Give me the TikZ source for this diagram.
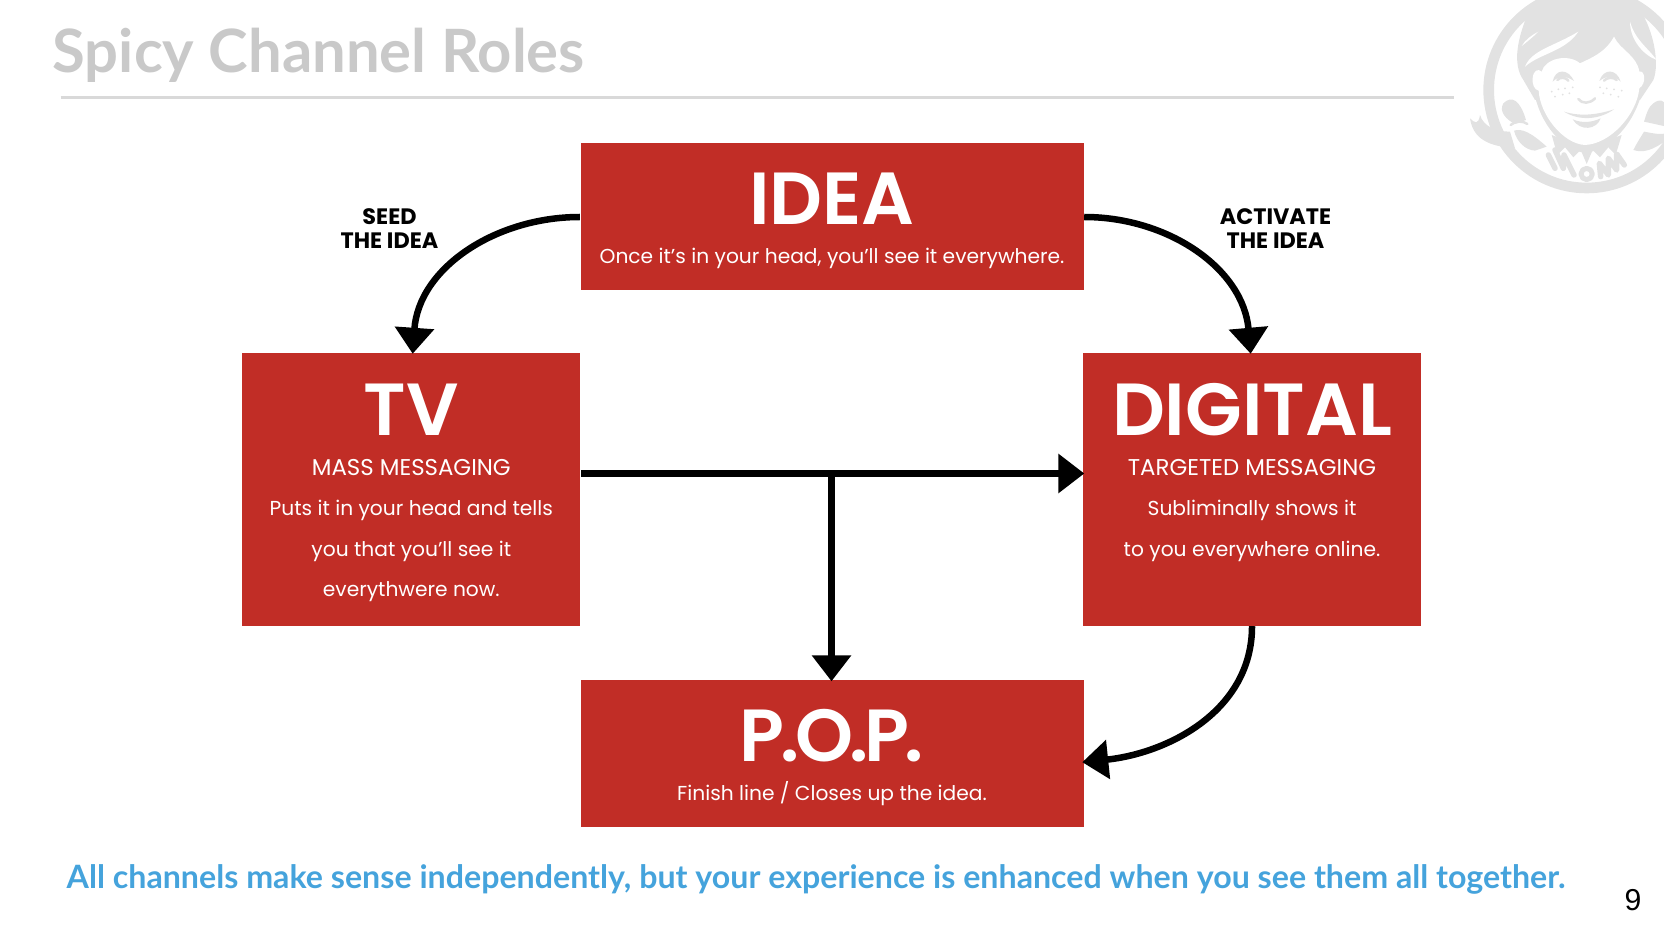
\documentclass[tikz,border=0pt]{standalone}
\usepackage{fontspec}
\setmainfont{Lato}
\newfontfamily\boxfont{Poppins}
\newfontfamily\headfont{Poppins SemiBold}
\newfontfamily\pagefont{Liberation Sans}
\usetikzlibrary{arrows.meta, positioning}
\definecolor{boxred}{HTML}{C12D26}
\definecolor{slidegray}{HTML}{C9C9C9}
\definecolor{logogray}{HTML}{E2E2E2}
\definecolor{noteblue}{HTML}{45A3DC}

\begin{document}
\begin{tikzpicture}[
        channel/.style={fill=boxred, draw=none, inner sep=0pt},
        bigbox/.style={channel, minimum width=5.03cm, minimum height=1.47cm},
        sidebox/.style={channel, minimum width=3.38cm, minimum height=2.73cm},
        heading/.style={font=\headfont\fontsize{21}{21}\selectfont, text=white, inner sep=0pt},
        desc/.style={font=\boxfont\fontsize{5.75}{11.4}\selectfont, text=white, align=center, inner sep=0pt},
        capsline/.style={font=\boxfont\fontsize{6.5}{11.4}\selectfont, text=white, inner sep=0pt},
        arrowlabel/.style={font=\boxfont\fontsize{6.35}{6.9}\selectfont\bfseries, align=center, inner sep=0pt},
        flow/.style={line width=0.065cm, shorten >=-0.02cm, -{Triangle[length=0.26cm, width=0.38cm]}},
        logoline/.style={draw=logogray, line width=0.25mm, line cap=round, line join=round}
    ]
    \useasboundingbox (0, 0) rectangle (16.64, 9.32);

    % --- Slide header ---
    \node[font=\fontsize{17}{18}\selectfont\bfseries, text=slidegray, anchor=west, inner sep=0pt] (slidetitle) at (0.52, 8.77) {Spicy Channel Roles};
    \draw[slidegray!70, line width=0.3mm] (0.605, 8.34) -- (14.54, 8.34);

    % --- Logo ---
    \begin{scope}
    \clip (14.4, 9.32) rectangle (16.64, 7.2);
    \begin{scope}[shift={(14.4, 9.32)}, x=1cm/300, y=-1cm/300]
        % ring
        \fill[logogray, even odd rule] (440, 270) circle (310) (440, 270) circle (278);
        % hair
        \fill[logogray] (262, 45) .. controls (235, 110) and (215, 190) .. (250, 240) -- (285, 300) -- (600, 300) -- (640, 240) .. controls (660, 190) and (640, 90) .. (600, 30) -- (520, -30) -- (350, -30) -- cycle;
        % highlights in the hair
        \fill[white] (255, 200) .. controls (275, 150) and (340, 140) .. (415, 95) .. controls (375, 155) and (300, 160) .. (255, 200) -- cycle;
        \fill[white] (295, 95) .. controls (275, 105) and (255, 120) .. (245, 138) .. controls (262, 125) and (280, 110) .. (295, 95) -- cycle;
        \fill[white] (570, 65) .. controls (585, 120) and (625, 145) .. (650, 180) .. controls (610, 165) and (570, 120) .. (570, 65) -- cycle;
        % jaw and collar
        \fill[logogray] (285, 290) .. controls (310, 390) and (380, 455) .. (435, 458) .. controls (495, 455) and (575, 390) .. (605, 280) -- cycle;
        \fill[logogray] (335, 405) -- (352, 465) -- (375, 442) -- (400, 472) -- (422, 450) -- (440, 492) -- (458, 450) -- (480, 472) -- (505, 442) -- (527, 465) -- (545, 405) -- (440, 445) -- cycle;
        % face
        \fill[white] (278, 235) .. controls (280, 210) and (295, 205) .. (305, 215) .. controls (315, 175) and (385, 160) .. (420, 190) .. controls (450, 175) and (495, 160) .. (522, 110) .. controls (540, 150) and (590, 165) .. (598, 215) .. controls (615, 210) and (620, 250) .. (598, 265) .. controls (590, 345) and (510, 432) .. (435, 435) .. controls (370, 432) and (300, 345) .. (296, 272) .. controls (282, 270) and (276, 250) .. (278, 235) -- cycle;
        % eyes and brows
        \fill[logogray] (338, 245) .. controls (345, 205) and (385, 205) .. (402, 243) .. controls (375, 225) and (355, 228) .. (338, 245) -- cycle;
        \fill[logogray] (478, 243) .. controls (490, 205) and (530, 205) .. (542, 245) .. controls (525, 228) and (500, 225) .. (478, 243) -- cycle;
        \draw[logoline] (352, 240) .. controls (360, 230) and (378, 232) .. (385, 242);
        \draw[logoline] (492, 242) .. controls (500, 232) and (520, 230) .. (530, 240);
        % freckles
        \foreach \fx/\fy in {335/275, 355/268, 375/265, 398/262, 345/290, 368/284, 388/280, 480/262, 500/265, 522/268, 545/272, 490/280, 512/284, 535/290} {
            \fill[logogray] (\fx, \fy) circle (3);
        }
        % nose and mouth
        \draw[logoline] (415, 297) .. controls (425, 312) and (450, 312) .. (465, 295);
        \fill[logogray] (372, 335) .. controls (420, 350) and (470, 345) .. (522, 328) .. controls (480, 358) and (420, 365) .. (372, 335) -- cycle;
        \fill[logogray] (398, 358) .. controls (425, 370) and (455, 368) .. (482, 355) .. controls (470, 390) and (420, 395) .. (398, 358) -- cycle;
        % pigtails, left
        \fill[logogray] (190, 310) .. controls (215, 285) and (240, 300) .. (258, 360) -- (225, 372) .. controls (200, 360) and (175, 335) .. (190, 310) -- cycle;
        \fill[logogray] (222, 392) .. controls (245, 385) and (270, 395) .. (320, 440) -- (285, 452) .. controls (255, 450) and (230, 425) .. (222, 392) -- cycle;
        \fill[logogray] (120, 345) .. controls (130, 380) and (170, 395) .. (210, 395) -- (225, 445) .. controls (170, 440) and (100, 430) .. (90, 355) .. controls (105, 370) and (115, 375) .. (120, 345) -- cycle;
        \draw[logoline] (212, 375) .. controls (225, 362) and (250, 362) .. (262, 372);
        % pigtails, right
        \fill[logogray] (640, 310) .. controls (660, 295) and (672, 300) .. (680, 320) -- (680, 380) -- (612, 365) .. controls (620, 340) and (625, 320) .. (640, 310) -- cycle;
        \fill[logogray] (612, 395) .. controls (640, 400) and (660, 405) .. (680, 400) -- (680, 420) .. controls (640, 450) and (610, 460) .. (580, 450) .. controls (590, 430) and (600, 415) .. (612, 395) -- cycle;
        % lettering
        \draw[logoline, line width=0.55mm] (325, 465) -- (345, 505) (345, 450) -- (370, 505) -- (372, 465) -- (402, 525);
        \draw[logoline, line width=0.5mm] (440, 522) circle (17);
        \draw[logoline, line width=0.55mm] (482, 530) -- (478, 490) -- (505, 525) -- (505, 475) -- (530, 510) -- (530, 462) -- (553, 495);
    \end{scope}
    \end{scope}

    % --- Channel boxes ---
    \node[bigbox] (idea) at (8.32, 7.15) {};
    \node[sidebox] (tv) at (4.113, 4.43) {};
    \node[sidebox] (digital) at (12.52, 4.43) {};
    \node[bigbox] (pop) at (8.32, 1.785) {};

    % --- Box texts ---
    \node[heading] (ideahead) at (8.32, 7.33) {IDEA};
    \node[desc] (ideadesc) at (8.32, 6.74) {Once it’s in your head, you’ll see it everywhere.};

    \node[heading] (tvhead) at (4.113, 5.22) {TV};
    \node[capsline] (tvcaps) at (4.113, 4.64) {MASS MESSAGING};
    \node[desc, below=0.23cm of tvcaps] (tvdesc) {Puts it in your head and tells\\you that you’ll see it\\everythwere now.};

    \node[heading] (digitalhead) at (12.52, 5.22) {DIGITAL};
    \node[capsline] (digitalcaps) at (12.52, 4.64) {TARGETED MESSAGING};
    \node[desc, below=0.23cm of digitalcaps] (digitaldesc) {Subliminally shows it\\to you everywhere online.};

    \node[heading] (pophead) at (8.32, 1.96) {P\kern-1.2pt.\kern-1.2pt O\kern-1.2pt.\kern-1.2pt P\kern-1.2pt.};
    \node[desc] (popdesc) at (8.32, 1.38) {Finish line / Closes up the idea.};

    % --- Arrow labels ---
    \node[arrowlabel] (seedlabel) at (3.895, 7.035) {SEED\\THE IDEA};
    \node[arrowlabel] (activatelabel) at (12.755, 7.035) {ACTIVATE\\THE IDEA};

    % --- Arrows ---
    \coordinate (tvout) at ([yshift=0.155cm]tv.east);
    \coordinate (digitalin) at ([yshift=0.155cm]digital.west);
    \coordinate (branch) at ([xshift=-0.005cm]tvout -| pop.north);
    \draw[flow] (idea.west) to[out=180, in=86] ([xshift=0.015cm]tv.north);
    \draw[flow] (idea.east) to[out=0, in=95] ([xshift=-0.015cm]digital.north);
    \draw[flow] (tvout) -- (digitalin);
    \draw[flow] (branch) -- (branch |- pop.north);
    \draw[flow] (digital.south) to[out=-90, in=6] ([yshift=-0.085cm]pop.east);

    % --- Closing line and page number ---
    \node[font=\fontsize{9.15}{11}\selectfont\bfseries, text=noteblue, inner sep=0pt] (closing) at (8.16, 0.53) {All channels make sense independently, but your experience is enhanced when you see them all together.};
    \node[font=\pagefont\fontsize{8.6}{10}\selectfont, inner sep=0pt] (pagenum) at (16.33, 0.32) {9};
\end{tikzpicture}
\end{document}
